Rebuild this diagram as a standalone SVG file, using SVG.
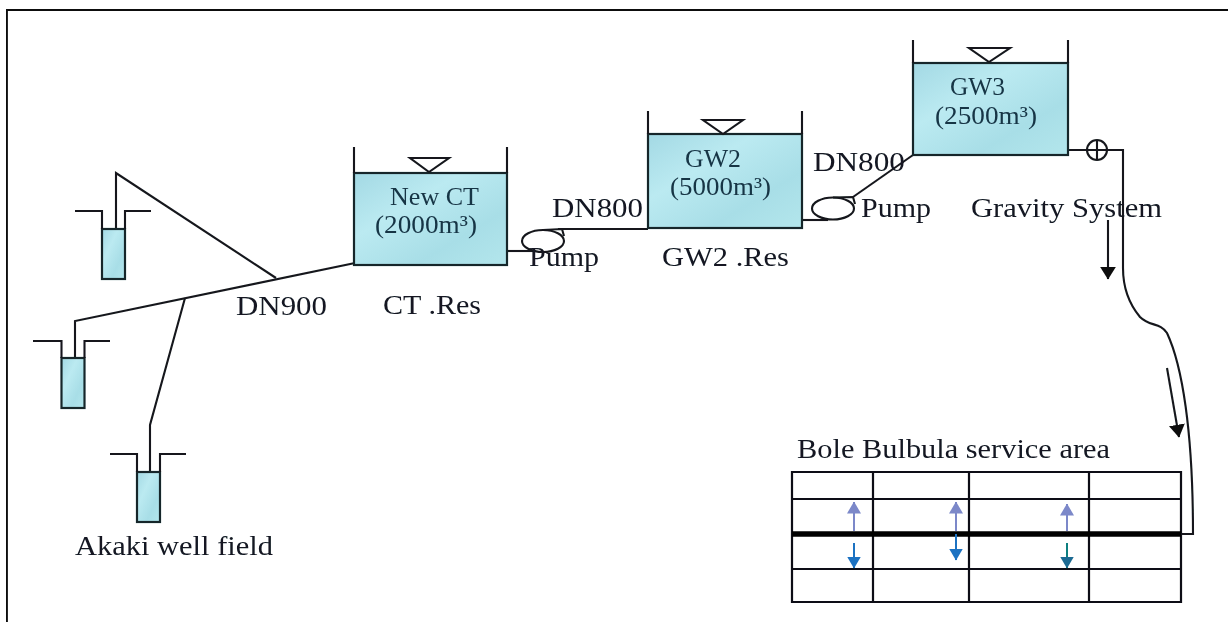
<svg xmlns="http://www.w3.org/2000/svg" width="1228" height="622" viewBox="0 0 1228 622">
<style>
.l{fill:none;stroke:#14191c;stroke-width:2.100}
.g{fill:none;stroke:#0c1012;stroke-width:2.200}
.w{fill:url(#water);stroke:#16282c;stroke-width:2.200}
.t{font-family:"Liberation Serif","Times New Roman",serif;font-size:27.500px;fill:#121922}
.s{font-size:25px;fill:#173445}
</style>
<defs>
<filter id="soft" x="0" y="0" width="1" height="1"><feGaussianBlur stdDeviation="0.4"/></filter>
<linearGradient id="water" x1="0" y1="0" x2="1" y2="1">
<stop offset="0" stop-color="#a3d9e4"/><stop offset=".35" stop-color="#bbeaf1"/><stop offset=".7" stop-color="#a8dee7"/><stop offset="1" stop-color="#b3e6ec"/>
</linearGradient>
<marker id="bk" viewBox="0 0 12 15" refX="11.500" refY="7.500" markerWidth="13" markerHeight="16" markerUnits="userSpaceOnUse" orient="auto"><path d="M0 0L12 7.500L0 15Z" fill="#0a0a0a"/></marker>
<marker id="up" viewBox="0 0 12 14" refX="11.500" refY="7" markerWidth="12" markerHeight="15" markerUnits="userSpaceOnUse" orient="auto"><path d="M0 0L12 7L0 14Z" fill="#7b88c9"/></marker>
<marker id="dn" viewBox="0 0 12 14" refX="11.500" refY="7" markerWidth="12" markerHeight="15" markerUnits="userSpaceOnUse" orient="auto"><path d="M0 0L12 7L0 14Z" fill="#1b72c2"/></marker>
<marker id="dt" viewBox="0 0 12 14" refX="11.500" refY="7" markerWidth="12" markerHeight="15" markerUnits="userSpaceOnUse" orient="auto"><path d="M0 0L12 7L0 14Z" fill="#1c6a92"/></marker>
</defs>
<rect width="1228" height="622" fill="#fff"/>
<g filter="url(#soft)">
<path d="M1228 9.500H6.500V622" fill="none" stroke="#0a0a0a" stroke-width="2.800"/>

<g id="connectors">
<path class="l" d="M116 229V173L276 278"/>
<path class="l" d="M75 358V321L355 263"/>
<path class="l" d="M150 472V425L185 298"/>
<path class="l" d="M507 251H535"/>
<path class="l" d="M558 229H648"/>
<path class="l" d="M803 220H828"/>
<path class="l" d="M853 197L913 155"/>
<path class="l" d="M1068 150H1123V268C1123 290 1130 305 1140 317C1150 327 1160 322 1167 333C1182 365 1193 430 1193 534H1180"/>
<path class="l" d="M1108 220V279" marker-end="url(#bk)"/>
<path class="l" d="M1167 368L1179 437" marker-end="url(#bk)"/>
</g>

<g id="well-1"><rect class="w" x="102" y="229" width="23" height="50"/><path class="l" d="M75 211H102V229M125 229V211H151"/></g>
<g id="well-2"><rect class="w" x="61.500" y="358" width="23" height="50"/><path class="l" d="M33 341H61.500V358M84.500 358V341H110"/></g>
<g id="well-3"><rect class="w" x="137" y="472" width="23" height="50"/><path class="l" d="M110 454H137V472M160 472V454H186"/></g>
<text class="t" x="75" y="555" textLength="198" lengthAdjust="spacingAndGlyphs">Akaki well field</text>
<text class="t" x="236" y="315" textLength="91" lengthAdjust="spacingAndGlyphs">DN900</text>

<g id="ct-res">
<rect class="w" x="354" y="173" width="153" height="92"/>
<path class="l" d="M354 173V147M507 173V147M410 158H449L429 172Z"/>
<text class="t s" x="390" y="205" textLength="89" lengthAdjust="spacingAndGlyphs">New CT</text>
<text class="t s" x="375" y="233" textLength="102" lengthAdjust="spacingAndGlyphs">(2000m³)</text>
<text class="t" x="383" y="314" textLength="98" lengthAdjust="spacingAndGlyphs">CT .Res</text>
</g>
<g id="pump-1">
<ellipse class="l" cx="543" cy="241" rx="21" ry="11"/>
<path class="l" d="M543 230L562 229L564 236"/>
<text class="t" x="529" y="266" textLength="70" lengthAdjust="spacingAndGlyphs">Pump</text>
<text class="t" x="552" y="217" textLength="91" lengthAdjust="spacingAndGlyphs">DN800</text>
</g>
<g id="gw2-res">
<rect class="w" x="648" y="134" width="154" height="94"/>
<path class="l" d="M648 134V111M802 134V111M703 120H743L723 134Z"/>
<text class="t s" x="685" y="167" textLength="56" lengthAdjust="spacingAndGlyphs">GW2</text>
<text class="t s" x="670" y="195" textLength="101" lengthAdjust="spacingAndGlyphs">(5000m³)</text>
<text class="t" x="662" y="266" textLength="127" lengthAdjust="spacingAndGlyphs">GW2 .Res</text>
</g>
<g id="pump-2">
<ellipse class="l" cx="833" cy="208.500" rx="21" ry="11"/>
<path class="l" d="M833 197.500L853 197L855 204"/>
<text class="t" x="861" y="217" textLength="70" lengthAdjust="spacingAndGlyphs">Pump</text>
<text class="t" x="813" y="171" textLength="92" lengthAdjust="spacingAndGlyphs">DN800</text>
</g>
<g id="gw3-res">
<rect class="w" x="913" y="63" width="155" height="92"/>
<path class="l" d="M913 63V40M1068 63V40M969 48H1010L989 62Z"/>
<text class="t s" x="950" y="95" textLength="55" lengthAdjust="spacingAndGlyphs">GW3</text>
<text class="t s" x="935" y="124" textLength="102" lengthAdjust="spacingAndGlyphs">(2500m³)</text>
</g>
<g id="valve"><circle class="l" cx="1097" cy="150" r="10"/><path class="l" d="M1097 140V160"/></g>
<text class="t" x="971" y="217" textLength="191" lengthAdjust="spacingAndGlyphs">Gravity System</text>

<g id="service-area">
<text class="t" x="797" y="458" textLength="313" lengthAdjust="spacingAndGlyphs">Bole Bulbula service area</text>
<path class="g" d="M792 472H1181V602H792ZM873 472V602M969 472V602M1089 472V602M792 499H1181M792 569H1181"/>
<path d="M792 534H1181" stroke="#000" stroke-width="5.500" fill="none"/>
<g fill="none" stroke-width="2">
<path stroke="#7b88c9" d="M854 531V502" marker-end="url(#up)"/>
<path stroke="#1b72c2" d="M854 543V568" marker-end="url(#dn)"/>
<path stroke="#7b88c9" d="M956 531V502" marker-end="url(#up)"/>
<path stroke="#1b72c2" d="M956 534V560" marker-end="url(#dn)"/>
<path stroke="#7b88c9" d="M1067 531V504" marker-end="url(#up)"/>
<path stroke="#0f7f80" d="M1067 543V568" marker-end="url(#dt)"/>
</g>
</g>
</g>
</svg>
